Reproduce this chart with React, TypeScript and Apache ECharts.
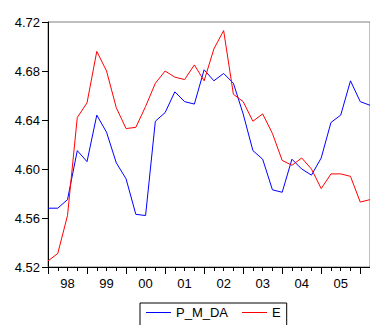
import React, { useEffect, useRef } from "react";
import * as echarts from "echarts";

const quarters = [
  "1998Q1","1998Q2","1998Q3","1998Q4","1999Q1","1999Q2","1999Q3","1999Q4",
  "2000Q1","2000Q2","2000Q3","2000Q4","2001Q1","2001Q2","2001Q3","2001Q4",
  "2002Q1","2002Q2","2002Q3","2002Q4","2003Q1","2003Q2","2003Q3","2003Q4",
  "2004Q1","2004Q2","2004Q3","2004Q4","2005Q1","2005Q2","2005Q3","2005Q4",
  "2006Q1","2006Q2",
];

const yearLabels = ["98", "99", "00", "01", "02", "03", "04", "05"];

const pmda = [
  4.568, 4.568, 4.575, 4.615, 4.606, 4.644, 4.630, 4.605,
  4.592, 4.563, 4.562, 4.639, 4.646, 4.663, 4.655, 4.653,
  4.681, 4.672, 4.678, 4.670, 4.645, 4.615, 4.608, 4.583,
  4.581, 4.608, 4.600, 4.595, 4.609, 4.638, 4.644, 4.672,
  4.655, 4.652,
];

const eSeries = [
  4.525, 4.531, 4.562, 4.642, 4.654, 4.696, 4.680, 4.650,
  4.633, 4.634, 4.651, 4.670, 4.680, 4.675, 4.673, 4.685,
  4.672, 4.698, 4.713, 4.661, 4.655, 4.639, 4.645, 4.629,
  4.607, 4.603, 4.609, 4.600, 4.584, 4.596, 4.596, 4.594,
  4.573, 4.575,
];

const yTicks = { min: 4.52, max: 4.72, step: 0.04 };

const FONT = "'Liberation Sans', Arial, sans-serif";

export default function App() {
  const ref = useRef<HTMLDivElement>(null);
  useEffect(() => {
    if (!ref.current) return;
    const chart = echarts.init(ref.current, null, { renderer: "svg" });
    const n = quarters.length - 1;
    chart.setOption({
      animation: false,
      backgroundColor: "#fff",
      grid: {
        left: 48,
        top: 22,
        bottom: 58,
        right: -6.5,
        show: true,
        borderColor: "#808080",
        borderWidth: 1,
      },
      legend: {
        left: 140,
        top: 303,
        orient: "horizontal",
        borderColor: "#000",
        borderWidth: 1,
        padding: [3, 6, 14, 6],
        itemGap: 14,
        itemWidth: 25,
        itemHeight: 1,
        icon: "rect",
        textStyle: { fontFamily: FONT, fontSize: 13, color: "#000" },
        data: ["P_M_DA", "E"],
      },
      xAxis: [
        {
          type: "value",
          min: 0,
          max: n,
          interval: 4,
          position: "bottom",
          axisLine: { show: true, onZero: false, lineStyle: { color: "#000", width: 1 } },
          axisTick: { show: true, length: 7, lineStyle: { color: "#000" } },
          minorTick: { show: true, splitNumber: 4, length: 4, lineStyle: { color: "#000" } },
          axisLabel: { show: false },
          splitLine: { show: false },
        },
        {
          type: "category",
          data: quarters,
          boundaryGap: false,
          position: "bottom",
          axisLine: { show: false },
          axisTick: { show: false },
          splitLine: { show: false },
          axisLabel: {
            show: true,
            margin: 10,
            fontFamily: FONT,
            fontSize: 13,
            color: "#000",
            interval: (i: number) => i % 4 === 2 && Math.floor(i / 4) < yearLabels.length,
            formatter: (_v: string, i: number) => yearLabels[Math.floor(i / 4)] ?? "",
          },
        },
      ],
      yAxis: {
        type: "value",
        min: yTicks.min,
        max: yTicks.max,
        interval: yTicks.step,
        axisLine: { show: true, lineStyle: { color: "#000", width: 1 } },
        axisTick: { show: true, length: 6, lineStyle: { color: "#000" } },
        axisLabel: {
          margin: 8,
          fontFamily: FONT,
          fontSize: 13,
          color: "#000",
          formatter: (v: number) => v.toFixed(2),
        },
        splitLine: { show: false },
      },
      series: [
        {
          name: "P_M_DA",
          type: "line",
          xAxisIndex: 0,
          data: pmda.map((v, i) => [i, v]),
          showSymbol: false,
          symbol: "none",
          lineStyle: { color: "#0000ff", width: 1 },
          itemStyle: { color: "#0000ff" },
        },
        {
          name: "E",
          type: "line",
          xAxisIndex: 0,
          data: eSeries.map((v, i) => [i, v]),
          showSymbol: false,
          symbol: "none",
          lineStyle: { color: "#ff0000", width: 1 },
          itemStyle: { color: "#ff0000" },
        },
      ],
    });
    return () => chart.dispose();
  }, []);
  return (
    <div
      ref={ref}
      style={{ position: "fixed", left: 0, top: 0, width: 370, height: 325, background: "#fff" }}
    />
  );
}
